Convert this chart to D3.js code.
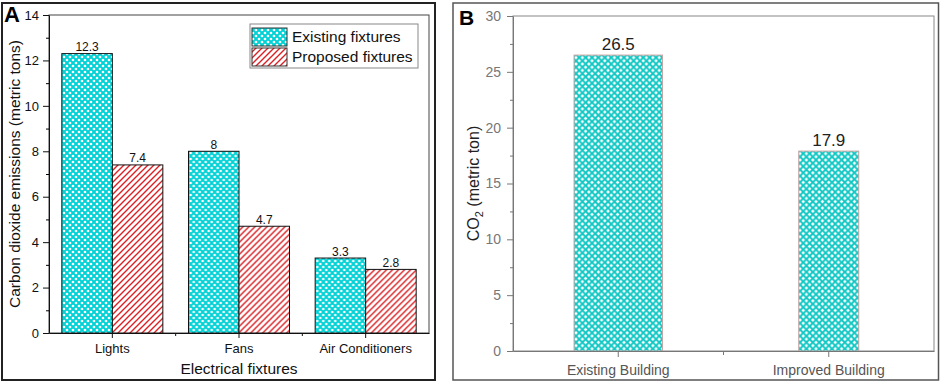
<!DOCTYPE html>
<html>
<head>
<meta charset="utf-8">
<script src="https://cdn.jsdelivr.net/npm/d3@7"></script>
<style>
  body { margin: 0; background: #fff; }
  svg { display: block; font-family: Arial, "Liberation Sans", sans-serif; }
</style>
</head>
<body>
<svg id="chart" width="941" height="384"></svg>
<script>
// panel A data
var fixtures = ['Lights', 'Fans', 'Air Conditioners'];
var existingFixtures = [12.3, 8, 3.3];
var proposedFixtures = [7.4, 4.7, 2.8];
var seriesNames = ['Existing fixtures', 'Proposed fixtures'];
var ticksA = [0, 2, 4, 6, 8, 10, 12, 14];

// panel B data
var buildings = ['Existing Building', 'Improved Building'];
var co2Values = [26.5, 17.9];
var ticksB = [0, 5, 10, 15, 20, 25, 30];

var svg = d3.select('#chart');
var defs = svg.append('defs');

// cyan with white dots
var pa = defs.append('pattern').attr('id', 'dotsA')
    .attr('patternUnits', 'userSpaceOnUse').attr('width', 6).attr('height', 6);
pa.append('rect').attr('width', 6).attr('height', 6).attr('fill', '#00d2d6');
[[0,0],[6,0],[0,6],[6,6],[3,3]].forEach(function(p) {
    pa.append('circle').attr('cx', p[0]).attr('cy', p[1]).attr('r', 1.35).attr('fill', '#fff');
});

var pb = defs.append('pattern').attr('id', 'dotsB')
    .attr('patternUnits', 'userSpaceOnUse').attr('width', 6.4).attr('height', 6.4);
pb.append('rect').attr('width', 6.4).attr('height', 6.4).attr('fill', '#12c8c4');
[[0,0],[6.4,0],[0,6.4],[6.4,6.4],[3.2,3.2]].forEach(function(p) {
    pb.append('path')
        .attr('d', 'M' + p[0] + ',' + (p[1]-1.8) + 'L' + (p[0]+1.8) + ',' + p[1] +
              'L' + p[0] + ',' + (p[1]+1.8) + 'L' + (p[0]-1.8) + ',' + p[1] + 'Z')
        .attr('fill', '#fff');
});

// red diagonal hatch
var ph = defs.append('pattern').attr('id', 'hatch')
    .attr('patternUnits', 'userSpaceOnUse').attr('width', 6).attr('height', 6);
ph.append('rect').attr('width', 6).attr('height', 6).attr('fill', '#fff');
ph.append('path').attr('d', 'M0,6L6,0M-1.5,1.5L1.5,-1.5M4.5,7.5L7.5,4.5')
    .attr('stroke', '#dc1f24').attr('stroke-width', 1.4);

var fills = ['url(#dotsA)', 'url(#hatch)'];

// ---------- panel A ----------
svg.append('rect').attr('x', 2).attr('y', 3).attr('width', 433).attr('height', 377)
    .attr('fill', 'none').attr('stroke', '#222').attr('stroke-width', 2);

var a = { l: 49, r: 429, t: 15, b: 333 };
var xA = d3.scaleBand().domain(fixtures).range([a.l, a.r]);
var xSub = d3.scaleBand().domain([0, 1]).range([0, xA.bandwidth()]).paddingOuter(0.254);
var yA = d3.scaleLinear().domain([0, 14]).range([a.b, a.t]);

svg.append('rect').attr('x', a.l).attr('y', a.t).attr('width', a.r - a.l).attr('height', a.b - a.t)
    .attr('fill', 'none').attr('stroke', '#444').attr('stroke-width', 1);

var groups = svg.append('g').selectAll('g').data(fixtures).enter().append('g')
    .attr('transform', function(d) { return 'translate(' + xA(d) + ',0)'; });

groups.each(function(d, i) {
    var g = d3.select(this);
    [existingFixtures[i], proposedFixtures[i]].forEach(function(v, s) {
        g.append('rect')
            .attr('x', xSub(s)).attr('y', yA(v))
            .attr('width', xSub.bandwidth()).attr('height', yA(0) - yA(v))
            .attr('fill', fills[s]).attr('stroke', '#111').attr('stroke-width', 1);
        g.append('text')
            .attr('x', xSub(s) + xSub.bandwidth() / 2).attr('y', yA(v) - 2.5)
            .attr('text-anchor', 'middle').attr('font-size', 12).attr('fill', '#111')
            .text(v);
    });
});

// y axis A
var yAxisA = svg.append('g').attr('transform', 'translate(' + a.l + ',0)')
    .call(d3.axisLeft(yA).tickValues(ticksA).tickSize(6).tickSizeOuter(0).tickPadding(4));
svg.append('g').attr('transform', 'translate(' + a.l + ',0)')
    .call(d3.axisLeft(yA).tickValues(d3.range(1, 14, 2)).tickSize(3).tickFormat('').tickSizeOuter(0))
    .select('.domain').remove();
yAxisA.selectAll('text').attr('font-size', 13).attr('fill', '#111');
yAxisA.selectAll('line, path').attr('stroke', '#111');

// x axis A
var xAxisA = svg.append('g').attr('transform', 'translate(0,' + a.b + ')')
    .call(d3.axisBottom(xA).tickSize(5).tickSizeOuter(0).tickPadding(6));
xAxisA.selectAll('text').attr('font-size', 13).attr('fill', '#111');
xAxisA.selectAll('line, path').attr('stroke', '#111');
svg.append('g').selectAll('line').data(fixtures.slice(1)).enter().append('line')
    .attr('x1', function(d) { return xA(d); }).attr('x2', function(d) { return xA(d); })
    .attr('y1', a.b).attr('y2', a.b + 3).attr('stroke', '#111');

svg.append('text').attr('x', (a.l + a.r) / 2).attr('y', 374)
    .attr('text-anchor', 'middle').attr('font-size', 15.5).attr('fill', '#111')
    .text('Electrical fixtures');
svg.append('text').attr('transform', 'translate(20,' + ((a.t + a.b) / 2) + ') rotate(-90)')
    .attr('text-anchor', 'middle').attr('font-size', 15.5).attr('fill', '#111')
    .text('Carbon dioxide emissions (metric tons)');
svg.append('text').attr('x', 4).attr('y', 22).attr('font-size', 22)
    .attr('font-weight', 'bold').attr('fill', '#000').text('A');

// legend A
var leg = svg.append('g').attr('transform', 'translate(250,24)');
leg.append('rect').attr('width', 168).attr('height', 44)
    .attr('fill', '#fff').attr('stroke', '#888').attr('stroke-width', 1);
seriesNames.forEach(function(name, s) {
    leg.append('rect').attr('x', 2).attr('y', 4 + s * 20).attr('width', 35).attr('height', 18)
        .attr('fill', fills[s]).attr('stroke', '#333').attr('stroke-width', 1);
    leg.append('text').attr('x', 42).attr('y', 17.5 + s * 20)
        .attr('font-size', 15.5).attr('fill', '#111').text(name);
});

// ---------- panel B ----------
svg.append('rect').attr('x', 453).attr('y', 3).attr('width', 485.5).attr('height', 377)
    .attr('fill', 'none').attr('stroke', '#555').attr('stroke-width', 1.5);

var b = { l: 513, r: 934, t: 16, b: 351 };
var xB = d3.scaleBand().domain(buildings).range([b.l, b.r]);
var yB = d3.scaleLinear().domain([0, 30]).range([b.b, b.t]);
var barFrac = [0.42, 0.285];

svg.append('rect').attr('x', b.l).attr('y', b.t).attr('width', b.r - b.l).attr('height', b.b - b.t)
    .attr('fill', 'none').attr('stroke', '#888').attr('stroke-width', 1);

var barsB = svg.append('g').selectAll('g').data(buildings).enter().append('g');
barsB.append('rect')
    .attr('x', function(d, i) { return xB(d) + xB.bandwidth() * (1 - barFrac[i]) / 2; })
    .attr('y', function(d, i) { return yB(co2Values[i]); })
    .attr('width', function(d, i) { return xB.bandwidth() * barFrac[i]; })
    .attr('height', function(d, i) { return yB(0) - yB(co2Values[i]); })
    .attr('fill', 'url(#dotsB)').attr('stroke', '#c9a3a3').attr('stroke-width', 1);
barsB.append('text')
    .attr('x', function(d) { return xB(d) + xB.bandwidth() / 2; })
    .attr('y', function(d, i) { return yB(co2Values[i]) - 5; })
    .attr('text-anchor', 'middle').attr('font-size', 17).attr('fill', '#222')
    .text(function(d, i) { return co2Values[i]; });

var yAxisB = svg.append('g').attr('transform', 'translate(' + b.l + ',0)')
    .call(d3.axisLeft(yB).tickValues(ticksB).tickSize(6).tickSizeOuter(0).tickPadding(6));
svg.append('g').attr('transform', 'translate(' + b.l + ',0)')
    .call(d3.axisLeft(yB).tickValues(d3.range(2.5, 30, 5)).tickSize(3).tickFormat('').tickSizeOuter(0))
    .call(function(g) { g.select('.domain').remove(); g.selectAll('line').attr('stroke', '#777'); });
yAxisB.selectAll('text').attr('font-size', 14).attr('fill', '#777');
yAxisB.selectAll('line, path').attr('stroke', '#777');

var xAxisB = svg.append('g').attr('transform', 'translate(0,' + b.b + ')')
    .call(d3.axisBottom(xB).tickSize(6).tickSizeOuter(0).tickPadding(8));
xAxisB.selectAll('text').attr('font-size', 14).attr('fill', '#555');
xAxisB.selectAll('line, path').attr('stroke', '#777');
svg.append('line').attr('x1', xB(buildings[1])).attr('x2', xB(buildings[1]))
    .attr('y1', b.b).attr('y2', b.b + 4).attr('stroke', '#777');

var yTitleB = svg.append('text')
    .attr('transform', 'translate(479,' + ((b.t + b.b) / 2) + ') rotate(-90)')
    .attr('text-anchor', 'middle').attr('font-size', 16).attr('fill', '#222');
yTitleB.append('tspan').text('CO');
yTitleB.append('tspan').attr('font-size', 11).attr('dy', 4).text('2');
yTitleB.append('tspan').attr('dy', -4).text(' (metric ton)');

svg.append('text').attr('x', 459).attr('y', 25).attr('font-size', 21)
    .attr('font-weight', 'bold').attr('fill', '#000').text('B');
</script>
</body>
</html>
